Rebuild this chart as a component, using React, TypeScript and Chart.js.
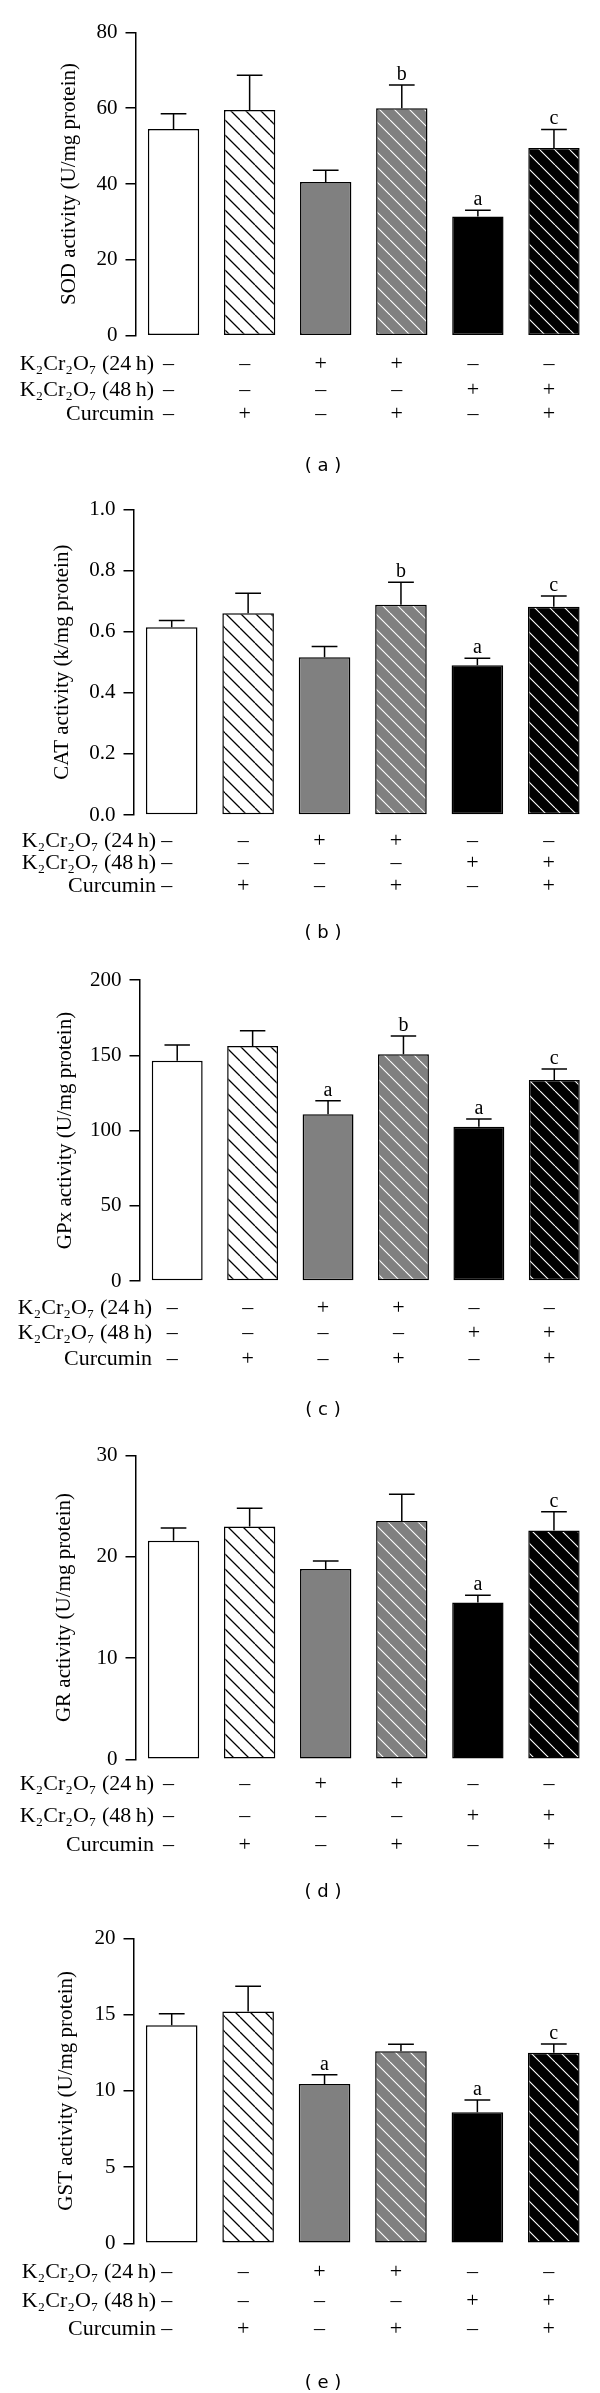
import React, { useEffect, useRef } from 'react';
import { Chart, registerables } from 'chart.js';

Chart.register(...registerables);

// ---------- data ----------
const GROUPS = [
  'Control',
  'Curcumin',
  'K₂Cr₂O₇ (24 h)',
  'K₂Cr₂O₇ (24 h) + Curcumin',
  'K₂Cr₂O₇ (48 h)',
  'K₂Cr₂O₇ (48 h) + Curcumin',
];

const ROW_LABELS = ['K₂Cr₂O₇ (24\u2009h)', 'K₂Cr₂O₇ (48\u2009h)', 'Curcumin'];
const ROW_24H = ['–', '–', '+', '+', '–', '–'];
const ROW_48H = ['–', '–', '–', '–', '+', '+'];
const ROW_CURCUMIN = ['–', '+', '–', '+', '–', '+'];

const SOD_MEAN = [54.5, 59.5, 40.5, 60.0, 31.4, 49.5];
const SOD_ERR = [4.0, 9.2, 3.1, 6.1, 1.7, 4.9];
const SOD_SIG = ['', '', '', 'b', 'a', 'c'];
const SOD_TICKS = [0, 20, 40, 60, 80];
const SOD_TICK_LABELS = ['0', '20', '40', '60', '80'];

const CAT_MEAN = [0.614, 0.66, 0.516, 0.688, 0.49, 0.681];
const CAT_ERR = [0.022, 0.065, 0.035, 0.073, 0.023, 0.035];
const CAT_SIG = ['', '', '', 'b', 'a', 'c'];
const CAT_TICKS = [0, 0.2, 0.4, 0.6, 0.8, 1.0];
const CAT_TICK_LABELS = ['0.0', '0.2', '0.4', '0.6', '0.8', '1.0'];

const GPX_MEAN = [146.4, 156.1, 110.8, 150.6, 102.5, 133.6];
const GPX_ERR = [10.4, 10.2, 9.0, 12.2, 5.1, 7.3];
const GPX_SIG = ['', '', 'a', 'b', 'a', 'c'];
const GPX_TICKS = [0, 50, 100, 150, 200];
const GPX_TICK_LABELS = ['0', '50', '100', '150', '200'];

const GR_MEAN = [21.6, 23.0, 18.8, 23.55, 15.5, 22.6];
const GR_ERR = [1.25, 1.8, 0.8, 2.65, 0.7, 1.85];
const GR_SIG = ['', '', '', '', 'a', 'c'];
const GR_TICKS = [0, 10, 20, 30];
const GR_TICK_LABELS = ['0', '10', '20', '30'];

const GST_MEAN = [14.3, 15.2, 10.45, 12.6, 8.6, 12.5];
const GST_ERR = [0.75, 1.65, 0.6, 0.45, 0.8, 0.57];
const GST_SIG = ['', '', 'a', '', 'a', 'c'];
const GST_TICKS = [0, 5, 10, 15, 20];
const GST_TICK_LABELS = ['0', '5', '10', '15', '20'];

const PANELS = [
  { title: 'SOD activity (U/mg protein)', mean: SOD_MEAN, err: SOD_ERR, sig: SOD_SIG, ticks: SOD_TICKS, tickLabels: SOD_TICK_LABELS, caption: '( a )' },
  { title: 'CAT activity (k/mg protein)', mean: CAT_MEAN, err: CAT_ERR, sig: CAT_SIG, ticks: CAT_TICKS, tickLabels: CAT_TICK_LABELS, caption: '( b )' },
  { title: 'GPx activity (U/mg protein)', mean: GPX_MEAN, err: GPX_ERR, sig: GPX_SIG, ticks: GPX_TICKS, tickLabels: GPX_TICK_LABELS, caption: '( c )' },
  { title: 'GR activity (U/mg protein)', mean: GR_MEAN, err: GR_ERR, sig: GR_SIG, ticks: GR_TICKS, tickLabels: GR_TICK_LABELS, caption: '( d )' },
  { title: 'GST activity (U/mg protein)', mean: GST_MEAN, err: GST_ERR, sig: GST_SIG, ticks: GST_TICKS, tickLabels: GST_TICK_LABELS, caption: '( e )' },
];

// ---------- layout (page coordinates) ----------
const LAYOUT = [
  { canvasTop: 0, canvasH: 478, axisX: 135.5, top: 32.3, zero: 335.7, rows: [370, 395.5, 420], caption: 466, labelRight: 154, titleX: 69 },
  { canvasTop: 478, canvasH: 478, axisX: 133.5, top: 509.3, zero: 815, rows: [847, 869, 891.5], caption: 933, labelRight: 156, titleX: 62 },
  { canvasTop: 956, canvasH: 478, axisX: 139.5, top: 980, zero: 1281, rows: [1314, 1339, 1365], caption: 1410, labelRight: 152, titleX: 65 },
  { canvasTop: 1434, canvasH: 478, axisX: 135.5, top: 1455.7, zero: 1759.3, rows: [1789.5, 1821.5, 1850.5], caption: 1892, labelRight: 154, titleX: 64 },
  { canvasTop: 1912, canvasH: 481, axisX: 133.5, top: 1938.3, zero: 2243.3, rows: [2278, 2306.5, 2335], caption: 2383, labelRight: 156, titleX: 66 },
];
const PLOT_RIGHT = 592;
const CAPTION_X = 323;
const SERIF = '"Liberation Serif", "Times New Roman", serif';

function hatch(bg: string, fg: string, size: number, lw: number): CanvasPattern {
  const c = document.createElement('canvas');
  c.width = size;
  c.height = size;
  const g = c.getContext('2d')!;
  g.fillStyle = bg;
  g.fillRect(0, 0, size, size);
  g.strokeStyle = fg;
  g.lineWidth = lw;
  g.beginPath();
  for (const k of [-size, 0, size]) {
    g.moveTo(k, 0);
    g.lineTo(k + size, size);
  }
  g.stroke();
  return g.createPattern(c, 'repeat')!;
}

function Panel({ p, L }: { p: any; L: any }) {
  const ref = useRef<HTMLCanvasElement | null>(null);
  useEffect(() => {
    const canvas = ref.current!;
    const fills = [
      '#ffffff',
      hatch('#ffffff', '#000000', 15, 1.3),
      '#808080',
      hatch('#808080', '#ffffff', 15, 1.1),
      '#000000',
      hatch('#000000', '#ffffff', 15, 1.1),
    ];
    const rowsData = [ROW_24H, ROW_48H, ROW_CURCUMIN];
    const annot = {
      id: 'annot',
      afterDatasetsDraw(chart: any) {
        const ctx = chart.ctx;
        const ys = chart.scales.y;
        const xs = chart.scales.x;
        const meta = chart.getDatasetMeta(0);
        ctx.save();
        ctx.strokeStyle = '#000';
        ctx.fillStyle = '#000';
        ctx.lineWidth = 1.5;
        meta.data.forEach((el: any, i: number) => {
          const cx = el.x;
          const half = el.width * 0.25;
          const yTop = ys.getPixelForValue(p.mean[i]);
          const yErr = ys.getPixelForValue(p.mean[i] + p.err[i]);
          ctx.beginPath();
          ctx.moveTo(cx, yTop);
          ctx.lineTo(cx, yErr);
          ctx.moveTo(cx - half, yErr);
          ctx.lineTo(cx + half, yErr);
          ctx.stroke();
          if (p.sig[i]) {
            ctx.font = `20px ${SERIF}`;
            ctx.textAlign = 'center';
            ctx.textBaseline = 'alphabetic';
            ctx.fillText(p.sig[i], cx, yErr - 5);
          }
        });
        // treatment table
        ctx.font = `22px ${SERIF}`;
        ctx.textBaseline = 'alphabetic';
        rowsData.forEach((row, r) => {
          const y = L.rows[r] - L.canvasTop;
          ctx.textAlign = 'right';
          ctx.fillText(ROW_LABELS[r], L.labelRight, y);
          ctx.textAlign = 'center';
          row.forEach((s: string, i: number) => {
            ctx.fillText(s, xs.getPixelForValue(i) - 5, y);
          });
        });
        // caption
        ctx.font = '18px "DejaVu Sans", sans-serif';
        ctx.textAlign = 'center';
        ctx.textBaseline = 'middle';
        ctx.fillText(p.caption, CAPTION_X, L.caption - L.canvasTop);
        ctx.restore();
      },
    };
    const chart = new Chart(canvas, {
      type: 'bar',
      data: {
        labels: GROUPS,
        datasets: [
          {
            data: p.mean,
            backgroundColor: fills as any,
            borderColor: '#000',
            borderWidth: 1.5,
            borderSkipped: false,
            barPercentage: 0.675,
            categoryPercentage: 1,
          },
        ],
      },
      options: {
        animation: false,
        responsive: false,
        devicePixelRatio: 1,
        layout: {
          padding: {
            top: L.top - L.canvasTop,
            bottom: L.canvasTop + L.canvasH - L.zero,
            left: 0,
            right: 600 - PLOT_RIGHT,
          },
        },
        plugins: {
          legend: { display: false },
          tooltip: { enabled: false },
        },
        scales: {
          x: { display: false, offset: true },
          y: {
            min: p.ticks[0],
            max: p.ticks[p.ticks.length - 1],
            afterBuildTicks: (s: any) => {
              s.ticks = p.ticks.map((v: number) => ({ value: v }));
            },
            afterFit: (s: any) => {
              s.width = L.axisX;
            },
            ticks: {
              color: '#000',
              font: { family: SERIF, size: 21 },
              padding: 8,
              callback: (_v: any, i: number) => p.tickLabels[i],
            },
            grid: {
              drawOnChartArea: false,
              drawTicks: true,
              tickLength: 10,
              color: '#000',
              lineWidth: 1.5,
            },
            border: { display: true, color: '#000', width: 1.5 },
            title: {
              display: true,
              text: p.title,
              color: '#000',
              font: { family: SERIF, size: 21, lineHeight: 1 },
              padding: { top: L.titleX - 10.5, bottom: 0 },
            },
          },
        },
      },
      plugins: [annot],
    });
    return () => chart.destroy();
  }, []);
  return (
    <canvas
      ref={ref}
      width={600}
      height={L.canvasH}
      style={{ position: 'absolute', left: 0, top: L.canvasTop, width: 600, height: L.canvasH }}
    />
  );
}

export default function App() {
  return (
    <div style={{ position: 'absolute', left: 0, top: 0, width: 600, height: 2393, background: '#fff' }}>
      {PANELS.map((p, i) => (
        <Panel key={i} p={p} L={LAYOUT[i]} />
      ))}
    </div>
  );
}
